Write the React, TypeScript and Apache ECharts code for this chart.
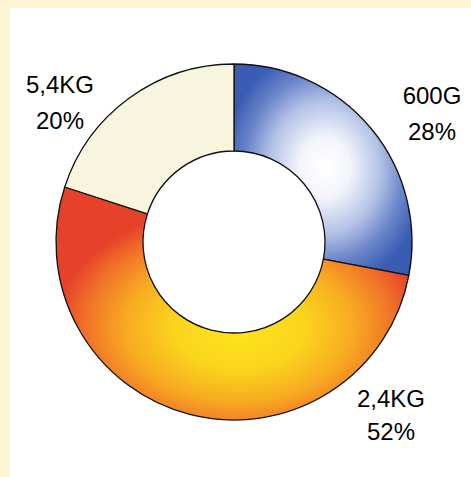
import React, { useEffect, useRef } from "react";
import * as echarts from "echarts";

// Weight bands and their share of the total (percent)
const categories = ["600G", "2,4KG", "5,4KG"];
const shares = [28, 52, 20];

// Label anchor points (centre of each two-line label), in pixels
const labelAnchors: [number, number][] = [
  [432, 113.5],
  [391, 415],
  [60, 102.5],
];
const labelLineHeights = [36, 33, 36];

const W = 471;
const H = 477;

const sliceFills = [
  {
    type: "radial",
    x: 0.51,
    y: 0.49,
    r: 0.57,
    colorStops: [
      { offset: 0, color: "#ffffff" },
      { offset: 0.25, color: "#f3f5fb" },
      { offset: 0.55, color: "#b3c1e6" },
      { offset: 0.78, color: "#6a85ca" },
      { offset: 1, color: "#3a5db3" },
    ],
  },
  {
    type: "radial",
    x: 0.52,
    y: 0.6,
    r: 0.52,
    colorStops: [
      { offset: 0, color: "#fce51a" },
      { offset: 0.35, color: "#fbd51d" },
      { offset: 0.62, color: "#f7aa22" },
      { offset: 0.84, color: "#f07228" },
      { offset: 1, color: "#e6422a" },
    ],
  },
  "#f7f5de",
];

export default function App() {
  const ref = useRef<HTMLDivElement>(null);

  useEffect(() => {
    if (!ref.current) return;
    const chart = echarts.init(ref.current, null, { renderer: "svg" });

    const data = categories.map((name, i) => ({
      name,
      value: shares[i],
      itemStyle: { color: sliceFills[i] as any },
      label: { lineHeight: labelLineHeights[i] },
    }));

    chart.setOption({
      animation: false,
      backgroundColor: "#fdf6d3",
      graphic: [
        {
          type: "rect",
          z: 0,
          shape: { x: 10, y: 8, width: W - 10, height: H - 8 },
          style: { fill: "#ffffff" },
          silent: true,
        },
      ],
      series: [
        {
          type: "pie",
          z: 2,
          center: [234, 242],
          radius: [91, 178],
          startAngle: 90,
          clockwise: true,
          avoidLabelOverlap: false,
          silent: true,
          itemStyle: { borderColor: "#111111", borderWidth: 1.3 },
          label: {
            show: true,
            position: "outside",
            formatter: (p: any) => `${p.name}\n${p.value}%`,
            fontFamily: "Liberation Sans, Arial, sans-serif",
            fontSize: 24,
            color: "#000000",
            align: "center",
          },
          labelLine: { show: false },
          labelLayout: (params: any) => {
            const [x, y] = labelAnchors[params.dataIndex];
            return { x, y, align: "center", verticalAlign: "middle" };
          },
          data,
        },
      ],
    });

    return () => chart.dispose();
  }, []);

  return (
    <div style={{ position: "fixed", left: 0, top: 0, width: W, height: H }}>
      <div ref={ref} style={{ width: W, height: H }} />
    </div>
  );
}
